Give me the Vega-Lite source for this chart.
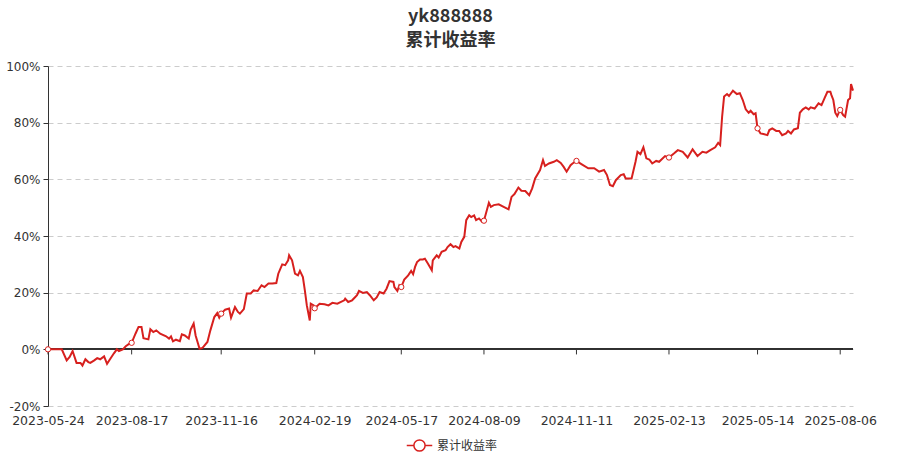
{
  "$schema": "https://vega.github.io/schema/vega-lite/v6.json",
  "width": 805,
  "height": 340,
  "autosize": "none",
  "padding": {"left": 48, "top": 66, "right": 47, "bottom": 54},
  "background": "#ffffff",
  "config": {
    "view": {"stroke": null},
    "font": "DejaVu Sans"
  },
  "title": {
    "text": "yk888888",
    "subtitle": "累计收益率",
    "anchor": "middle",
    "font": "Noto Sans CJK SC",
    "subtitleFont": "Noto Sans CJK SC",
    "fontSize": 18,
    "subtitleFontSize": 18,
    "fontWeight": "bold",
    "subtitleFontWeight": "bold",
    "color": "#333333",
    "subtitleColor": "#333333",
    "subtitlePadding": 6,
    "offset": 10
  },
  "datasets": {
    "nav": [
      {"date": "2023-05-24", "value": 0},
      {"date": "2023-05-31", "value": 0},
      {"date": "2023-06-07", "value": 0},
      {"date": "2023-06-12", "value": -3.9},
      {"date": "2023-06-15", "value": -2.7},
      {"date": "2023-06-18", "value": -0.6},
      {"date": "2023-06-22", "value": -4.8},
      {"date": "2023-06-26", "value": -4.8},
      {"date": "2023-06-28", "value": -5.7},
      {"date": "2023-07-01", "value": -3.5},
      {"date": "2023-07-04", "value": -4.5},
      {"date": "2023-07-06", "value": -4.8},
      {"date": "2023-07-10", "value": -3.9},
      {"date": "2023-07-13", "value": -3.1},
      {"date": "2023-07-16", "value": -3.5},
      {"date": "2023-07-20", "value": -2.5},
      {"date": "2023-07-23", "value": -5.1},
      {"date": "2023-07-26", "value": -3.5},
      {"date": "2023-07-30", "value": -1.4},
      {"date": "2023-08-02", "value": 0},
      {"date": "2023-08-04", "value": -0.6},
      {"date": "2023-08-08", "value": 0},
      {"date": "2023-08-11", "value": 1.1},
      {"date": "2023-08-14", "value": 1.8},
      {"date": "2023-08-17", "value": 2.3},
      {"date": "2023-08-21", "value": 5.6},
      {"date": "2023-08-24", "value": 7.9},
      {"date": "2023-08-27", "value": 7.9},
      {"date": "2023-08-29", "value": 3.9},
      {"date": "2023-09-03", "value": 3.5},
      {"date": "2023-09-05", "value": 7.1},
      {"date": "2023-09-08", "value": 6.1},
      {"date": "2023-09-11", "value": 6.7},
      {"date": "2023-09-15", "value": 5.5},
      {"date": "2023-09-21", "value": 4.6},
      {"date": "2023-09-24", "value": 3.8},
      {"date": "2023-09-26", "value": 4.6},
      {"date": "2023-09-28", "value": 2.8},
      {"date": "2023-10-01", "value": 3.4},
      {"date": "2023-10-05", "value": 2.9},
      {"date": "2023-10-07", "value": 5.3},
      {"date": "2023-10-10", "value": 4.9},
      {"date": "2023-10-14", "value": 3.8},
      {"date": "2023-10-16", "value": 7.0},
      {"date": "2023-10-19", "value": 9.1},
      {"date": "2023-10-21", "value": 4.9},
      {"date": "2023-10-25", "value": 0.2},
      {"date": "2023-10-28", "value": 0.5},
      {"date": "2023-11-02", "value": 2.6},
      {"date": "2023-11-05", "value": 6.7},
      {"date": "2023-11-09", "value": 11.4},
      {"date": "2023-11-12", "value": 12.8},
      {"date": "2023-11-14", "value": 11.2},
      {"date": "2023-11-16", "value": 12.6},
      {"date": "2023-11-20", "value": 14.0},
      {"date": "2023-11-24", "value": 14.4},
      {"date": "2023-11-26", "value": 11.2},
      {"date": "2023-11-30", "value": 14.9},
      {"date": "2023-12-03", "value": 13.2},
      {"date": "2023-12-05", "value": 12.6},
      {"date": "2023-12-09", "value": 14.2},
      {"date": "2023-12-12", "value": 19.7},
      {"date": "2023-12-16", "value": 19.7},
      {"date": "2023-12-19", "value": 20.8},
      {"date": "2023-12-23", "value": 20.6},
      {"date": "2023-12-27", "value": 22.6},
      {"date": "2023-12-30", "value": 22.0},
      {"date": "2024-01-03", "value": 23.2},
      {"date": "2024-01-07", "value": 23.2},
      {"date": "2024-01-11", "value": 23.4},
      {"date": "2024-01-13", "value": 26.7},
      {"date": "2024-01-17", "value": 30.0},
      {"date": "2024-01-20", "value": 29.7},
      {"date": "2024-01-23", "value": 31.4},
      {"date": "2024-01-24", "value": 33.2},
      {"date": "2024-01-27", "value": 31.4},
      {"date": "2024-01-30", "value": 26.7},
      {"date": "2024-02-02", "value": 26.1},
      {"date": "2024-02-04", "value": 27.7},
      {"date": "2024-02-07", "value": 25.5},
      {"date": "2024-02-09", "value": 20.8},
      {"date": "2024-02-11", "value": 15.5},
      {"date": "2024-02-14", "value": 10.2},
      {"date": "2024-02-15", "value": 16.1},
      {"date": "2024-02-18", "value": 15.5},
      {"date": "2024-02-19", "value": 14.5},
      {"date": "2024-02-24", "value": 16.1},
      {"date": "2024-02-29", "value": 15.9},
      {"date": "2024-03-04", "value": 15.5},
      {"date": "2024-03-08", "value": 16.4},
      {"date": "2024-03-13", "value": 16.1},
      {"date": "2024-03-20", "value": 17.3},
      {"date": "2024-03-21", "value": 17.9},
      {"date": "2024-03-24", "value": 16.7},
      {"date": "2024-03-28", "value": 17.3},
      {"date": "2024-04-02", "value": 19.1},
      {"date": "2024-04-04", "value": 20.6},
      {"date": "2024-04-08", "value": 19.9},
      {"date": "2024-04-12", "value": 20.2},
      {"date": "2024-04-15", "value": 19.1},
      {"date": "2024-04-19", "value": 17.3},
      {"date": "2024-04-22", "value": 18.3},
      {"date": "2024-04-25", "value": 20.2},
      {"date": "2024-04-29", "value": 19.7},
      {"date": "2024-05-02", "value": 21.4},
      {"date": "2024-05-05", "value": 24.1},
      {"date": "2024-05-09", "value": 23.8},
      {"date": "2024-05-10", "value": 22.0},
      {"date": "2024-05-13", "value": 20.6},
      {"date": "2024-05-15", "value": 22.6},
      {"date": "2024-05-17", "value": 22.0},
      {"date": "2024-05-20", "value": 24.6},
      {"date": "2024-05-24", "value": 26.1},
      {"date": "2024-05-27", "value": 27.7},
      {"date": "2024-05-29", "value": 26.5},
      {"date": "2024-05-31", "value": 29.1},
      {"date": "2024-06-02", "value": 30.8},
      {"date": "2024-06-05", "value": 31.7},
      {"date": "2024-06-08", "value": 31.7},
      {"date": "2024-06-10", "value": 32.0},
      {"date": "2024-06-13", "value": 30.3},
      {"date": "2024-06-17", "value": 27.9},
      {"date": "2024-06-18", "value": 31.4},
      {"date": "2024-06-22", "value": 33.2},
      {"date": "2024-06-24", "value": 32.4},
      {"date": "2024-06-27", "value": 34.4},
      {"date": "2024-07-01", "value": 35.0},
      {"date": "2024-07-03", "value": 36.1},
      {"date": "2024-07-06", "value": 37.1},
      {"date": "2024-07-09", "value": 36.1},
      {"date": "2024-07-11", "value": 36.4},
      {"date": "2024-07-15", "value": 35.6},
      {"date": "2024-07-17", "value": 37.9},
      {"date": "2024-07-20", "value": 39.7},
      {"date": "2024-07-22", "value": 45.6},
      {"date": "2024-07-25", "value": 47.3},
      {"date": "2024-07-27", "value": 46.7},
      {"date": "2024-07-30", "value": 47.3},
      {"date": "2024-08-01", "value": 45.6},
      {"date": "2024-08-04", "value": 46.2},
      {"date": "2024-08-07", "value": 45.0},
      {"date": "2024-08-09", "value": 45.4},
      {"date": "2024-08-14", "value": 51.7},
      {"date": "2024-08-16", "value": 50.3},
      {"date": "2024-08-19", "value": 50.9},
      {"date": "2024-08-24", "value": 51.2},
      {"date": "2024-08-29", "value": 50.3},
      {"date": "2024-09-03", "value": 49.4},
      {"date": "2024-09-06", "value": 53.8},
      {"date": "2024-09-09", "value": 54.8},
      {"date": "2024-09-13", "value": 57.1},
      {"date": "2024-09-16", "value": 56.0},
      {"date": "2024-09-20", "value": 55.9},
      {"date": "2024-09-24", "value": 54.4},
      {"date": "2024-09-27", "value": 56.8},
      {"date": "2024-09-30", "value": 60.3},
      {"date": "2024-10-05", "value": 63.3},
      {"date": "2024-10-08", "value": 66.8},
      {"date": "2024-10-10", "value": 64.7},
      {"date": "2024-10-14", "value": 65.6},
      {"date": "2024-10-19", "value": 66.2},
      {"date": "2024-10-22", "value": 66.8},
      {"date": "2024-10-26", "value": 65.8},
      {"date": "2024-10-29", "value": 64.4},
      {"date": "2024-11-01", "value": 62.7},
      {"date": "2024-11-05", "value": 65.0},
      {"date": "2024-11-07", "value": 65.6},
      {"date": "2024-11-11", "value": 66.5},
      {"date": "2024-11-16", "value": 65.4},
      {"date": "2024-11-23", "value": 63.9},
      {"date": "2024-11-29", "value": 63.9},
      {"date": "2024-12-04", "value": 62.7},
      {"date": "2024-12-09", "value": 63.3},
      {"date": "2024-12-12", "value": 61.5},
      {"date": "2024-12-15", "value": 58.0},
      {"date": "2024-12-18", "value": 57.6},
      {"date": "2024-12-21", "value": 59.7},
      {"date": "2024-12-26", "value": 61.5},
      {"date": "2024-12-29", "value": 61.8},
      {"date": "2024-12-31", "value": 60.3},
      {"date": "2025-01-06", "value": 60.3},
      {"date": "2025-01-10", "value": 66.2},
      {"date": "2025-01-12", "value": 69.7},
      {"date": "2025-01-15", "value": 68.9},
      {"date": "2025-01-18", "value": 71.3},
      {"date": "2025-01-21", "value": 67.4},
      {"date": "2025-01-24", "value": 67.0},
      {"date": "2025-01-27", "value": 65.6},
      {"date": "2025-01-31", "value": 66.5},
      {"date": "2025-02-03", "value": 66.2},
      {"date": "2025-02-09", "value": 68.2},
      {"date": "2025-02-13", "value": 67.7},
      {"date": "2025-02-18", "value": 69.1},
      {"date": "2025-02-22", "value": 70.3},
      {"date": "2025-02-27", "value": 69.7},
      {"date": "2025-03-04", "value": 67.7},
      {"date": "2025-03-09", "value": 70.6},
      {"date": "2025-03-14", "value": 68.2},
      {"date": "2025-03-19", "value": 69.7},
      {"date": "2025-03-23", "value": 69.4},
      {"date": "2025-03-27", "value": 70.3},
      {"date": "2025-04-01", "value": 71.3},
      {"date": "2025-04-04", "value": 72.9},
      {"date": "2025-04-06", "value": 72.1},
      {"date": "2025-04-08", "value": 82.1},
      {"date": "2025-04-10", "value": 89.2},
      {"date": "2025-04-13", "value": 90.1},
      {"date": "2025-04-15", "value": 89.4},
      {"date": "2025-04-19", "value": 91.3},
      {"date": "2025-04-23", "value": 90.1},
      {"date": "2025-04-26", "value": 90.4},
      {"date": "2025-04-29", "value": 88.0},
      {"date": "2025-05-02", "value": 84.7},
      {"date": "2025-05-05", "value": 83.5},
      {"date": "2025-05-07", "value": 84.2},
      {"date": "2025-05-10", "value": 83.0},
      {"date": "2025-05-12", "value": 83.3},
      {"date": "2025-05-14", "value": 78.0},
      {"date": "2025-05-17", "value": 76.2},
      {"date": "2025-05-20", "value": 76.0},
      {"date": "2025-05-24", "value": 75.6},
      {"date": "2025-05-26", "value": 77.4},
      {"date": "2025-05-29", "value": 78.0},
      {"date": "2025-06-02", "value": 77.1},
      {"date": "2025-06-05", "value": 77.1},
      {"date": "2025-06-08", "value": 75.6},
      {"date": "2025-06-12", "value": 76.2},
      {"date": "2025-06-14", "value": 77.1},
      {"date": "2025-06-17", "value": 76.2},
      {"date": "2025-06-20", "value": 77.6},
      {"date": "2025-06-24", "value": 78.0},
      {"date": "2025-06-26", "value": 83.5},
      {"date": "2025-06-29", "value": 84.7},
      {"date": "2025-07-02", "value": 85.4},
      {"date": "2025-07-05", "value": 84.7},
      {"date": "2025-07-07", "value": 85.4},
      {"date": "2025-07-11", "value": 85.0},
      {"date": "2025-07-15", "value": 86.8},
      {"date": "2025-07-18", "value": 86.2},
      {"date": "2025-07-21", "value": 88.6},
      {"date": "2025-07-24", "value": 90.9},
      {"date": "2025-07-27", "value": 90.9},
      {"date": "2025-07-28", "value": 89.8},
      {"date": "2025-07-30", "value": 88.0},
      {"date": "2025-08-01", "value": 83.5},
      {"date": "2025-08-03", "value": 82.3},
      {"date": "2025-08-05", "value": 83.9},
      {"date": "2025-08-06", "value": 84.5},
      {"date": "2025-08-09", "value": 82.7},
      {"date": "2025-08-11", "value": 82.1},
      {"date": "2025-08-14", "value": 88.0},
      {"date": "2025-08-16", "value": 88.6},
      {"date": "2025-08-17", "value": 93.6},
      {"date": "2025-08-19", "value": 91.3}
    ]
  },
  "data": {"name": "nav"},
  "encoding": {
    "x": {
      "field": "date",
      "type": "temporal",
      "scale": {"type": "utc", "nice": false, "domain": [{"year": 2023, "month": 5, "date": 24, "utc": true}, {"year": 2025, "month": 8, "date": 19, "utc": true}]},
      "axis": {
        "title": null,
        "labelExpr": "utcFormat(datum.value, '%Y-%m-%d')",
        "values": [
          {"year": 2023, "month": 5, "date": 24, "utc": true},
          {"year": 2023, "month": 8, "date": 17, "utc": true},
          {"year": 2023, "month": 11, "date": 16, "utc": true},
          {"year": 2024, "month": 2, "date": 19, "utc": true},
          {"year": 2024, "month": 5, "date": 17, "utc": true},
          {"year": 2024, "month": 8, "date": 9, "utc": true},
          {"year": 2024, "month": 11, "date": 11, "utc": true},
          {"year": 2025, "month": 2, "date": 13, "utc": true},
          {"year": 2025, "month": 5, "date": 14, "utc": true},
          {"year": 2025, "month": 8, "date": 6, "utc": true}
        ],
        "grid": false,
        "domain": false,
        "ticks": false,
        "labelFlush": false,
        "labelPadding": 8,
        "labelOverlap": false,
        "labelFontSize": 12.5,
        "labelColor": "#333333",
        "labelFont": "DejaVu Sans"
      }
    },
    "y": {
      "field": "value",
      "type": "quantitative",
      "scale": {"domain": [-20, 100], "nice": false, "zero": false},
      "axis": {
        "title": null,
        "values": [-20, 0, 20, 40, 60, 80, 100],
        "labelExpr": "datum.value + '%'",
        "grid": true,
        "gridDash": [5, 4],
        "gridColor": "#cccccc",
        "domain": true,
        "domainColor": "#333333",
        "tickColor": "#333333",
        "tickSize": 5,
        "labelPadding": 3,
        "labelFontSize": 12,
        "labelColor": "#333333",
        "labelFont": "DejaVu Sans"
      }
    }
  },
  "layer": [
    {
      "mark": {"type": "rule", "color": "#333333", "strokeWidth": 1},
      "encoding": {"y": {"datum": 0}, "x": null}
    },
    {
      "transform": [
        {"filter": "indexof(['2023-05-24','2023-08-17','2023-11-16','2024-02-19','2024-05-17','2024-08-09','2024-11-11','2025-02-13','2025-05-14','2025-08-06'], utcFormat(toDate(datum.date), '%Y-%m-%d')) >= 0"}
      ],
      "mark": {"type": "rule", "color": "#333333", "strokeWidth": 1},
      "encoding": {"y": {"datum": 0}, "y2": {"datum": -1.8}}
    },
    {
      "mark": {"type": "line", "color": "#d7201e", "strokeWidth": 2, "interpolate": "linear"},
      "encoding": {
        "color": {
          "datum": "累计收益率",
          "type": "nominal",
          "scale": {"range": ["#d7201e"]},
          "legend": {
            "title": null,
            "orient": "none",
            "legendX": 358,
            "legendY": 366,
            "direction": "horizontal",
            "symbolType": "M-1,0L-0.44,0M0.44,0L1,0M0.44,0A0.44,0.44,0,1,1,-0.44,0A0.44,0.44,0,1,1,0.44,0",
            "symbolSize": 650,
            "symbolStrokeWidth": 1.5,
            "symbolFillColor": "#ffffff",
            "symbolStrokeColor": "#d7201e",
            "labelFont": "Noto Sans CJK SC",
            "labelFontSize": 12,
            "labelColor": "#333333",
            "labelOffset": 4
          }
        }
      }
    },
    {
      "transform": [
        {"filter": "indexof(['2023-05-24','2023-08-17','2023-11-16','2024-02-19','2024-05-17','2024-08-09','2024-11-11','2025-02-13','2025-05-14','2025-08-06'], utcFormat(toDate(datum.date), '%Y-%m-%d')) >= 0"}
      ],
      "mark": {"type": "point", "shape": "circle", "filled": true, "fill": "#ffffff", "stroke": "#d7201e", "strokeWidth": 1, "size": 28, "opacity": 1}
    }
  ]
}
